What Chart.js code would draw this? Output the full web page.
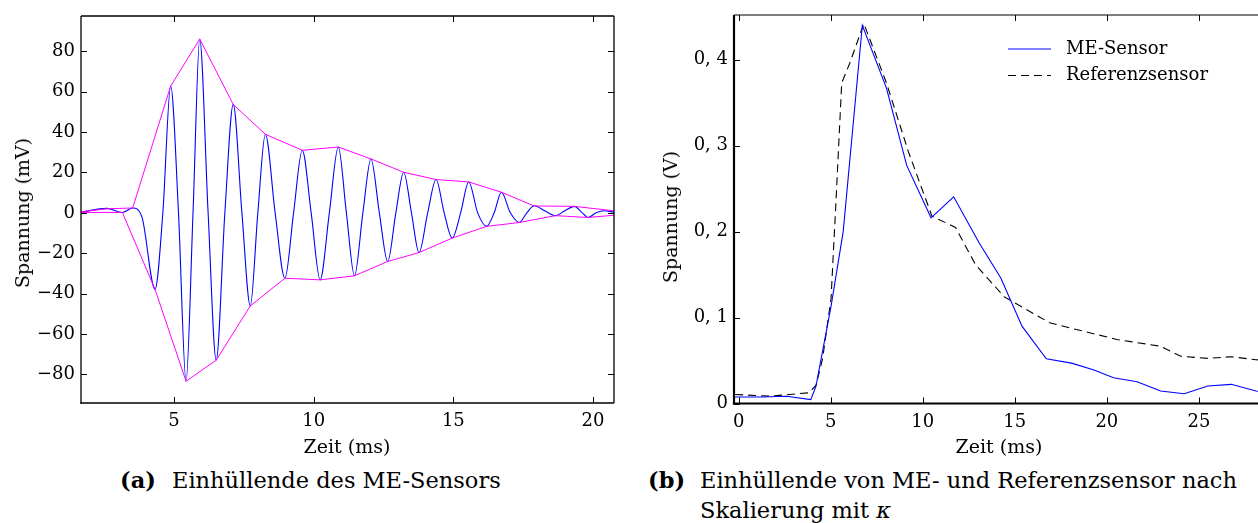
<!DOCTYPE html>
<html lang="de">
<head>
<meta charset="utf-8">
<title>Einhüllende ME-Sensor</title>
<script src="https://cdn.jsdelivr.net/npm/chart.js@4.4.1/dist/chart.umd.min.js"></script>
<style>
html, body { margin: 0; padding: 0; overflow: hidden; background: #fff; }
body { width: 1258px; height: 523px; position: relative; font-family: 'DejaVu Serif', serif; color: #000; }
canvas { position: absolute; top: 0; }
#chartA { left: 0; }
#chartB { left: 640px; }
.lbl { position: absolute; font-size: 19px; line-height: 24px; white-space: nowrap; }
.cap { position: absolute; font-size: 22.5px; line-height: 28px; white-space: nowrap; }
.xt { transform: translateX(-50%); }
.yt { transform: translate(-50%, -50%) rotate(-90deg); }
</style>
</head>
<body>
<canvas id="chartA" width="630" height="460"></canvas>
<canvas id="chartB" width="680" height="460"></canvas>

<div class="lbl xt" style="left:347px; top:434px;">Zeit (ms)</div>
<div class="lbl xt" style="left:999px; top:434px;">Zeit (ms)</div>
<div class="lbl yt" style="left:22px; top:213px;">Spannung (mV)</div>
<div class="lbl yt" style="left:670px; top:217px;">Spannung (V)</div>

<div class="cap" style="left:120px; top:466px;"><b>(a)</b></div>
<div class="cap" style="left:172px; top:466px;">Einhüllende des ME-Sensors</div>
<div class="cap" style="left:648px; top:466px;"><b>(b)</b></div>
<div class="cap" style="left:700px; top:466px;">Einhüllende von ME- und Referenzsensor nach</div>
<div class="cap" style="left:700px; top:496px;">Skalierung mit <i>κ</i></div>

<script>
// (a) ME-Sensor signal in mV and its upper / lower envelope
const tSig = [1.67, 2.6, 3.15, 3.52, 3.85, 4.32, 4.6, 4.88, 5.16, 5.43,
  5.68, 5.92, 6.22, 6.51, 6.82, 7.12, 7.43, 7.73, 8.0, 8.27,
  8.62, 8.97, 9.28, 9.59, 9.91, 10.23, 10.56, 10.88, 11.17, 11.46,
  11.76, 12.05, 12.35, 12.65, 12.94, 13.22, 13.5, 13.77, 14.08, 14.38,
  14.67, 14.96, 15.26, 15.55, 15.87, 16.19, 16.46, 16.72, 17.04, 17.36,
  17.63, 17.89, 18.27, 18.65, 18.99, 19.33, 19.58, 19.82, 20.11, 20.4,
  20.75];
const sig = [0.3, 2.2, 0.2, 2.4, -2, -37.9, 0, 62.8, 0, -83.4,
  0, 86.1, 0, -73.0, 0, 53.7, 0, -46.1, 0, 38.9,
  0, -32.4, 0, 31.0, 0, -33.2, 0, 32.6, 0, -31.2,
  0, 26.7, 0, -24.1, 0, 20.1, 0, -19.7, 0, 16.5,
  0, -12.5, 0, 15.3, 0, -6.7, 0, 10.2, 0, -4.8,
  0, 3.5, 1.0, -1.4, 1.0, 3.2, 0.5, -2.3, 0, 1.0,
  0.3];

const tUpper = [1.67, 2.6, 3.52, 4.88, 5.92, 7.12, 8.27, 9.59, 10.88, 12.05, 13.22, 14.38, 15.55, 16.72, 17.89, 19.33, 20.75];
const envUpper = [0.5, 2.0, 2.4, 62.8, 86.1, 53.7, 38.9, 31.0, 32.6, 26.7, 20.1, 16.5, 15.3, 10.2, 3.4, 3.2, 1.0];
const tLower = [1.67, 3.15, 4.32, 5.43, 6.51, 7.73, 8.97, 10.23, 11.46, 12.65, 13.77, 14.96, 16.19, 17.36, 18.65, 19.82, 20.75];
const envLower = [0.2, 0.2, -37.9, -83.4, -73.0, -46.1, -32.4, -33.2, -31.2, -24.1, -19.7, -12.5, -6.7, -4.8, -1.4, -2.3, -1.2];

const xTicksA = [5, 10, 15, 20];
const yTicksA = [-80, -60, -40, -20, 0, 20, 40, 60, 80];

// (b) envelopes in V after scaling
const tMe = [-0.19, 1.3, 2.6, 3.92, 4.2, 5.02, 5.68, 6.72, 8.03, 9.13, 10.45, 11.68, 13.06,
  14.24, 15.39, 16.71, 18.08, 19.3, 20.36, 21.64, 22.92, 24.2, 25.48, 26.75, 28.1, 29.4];
const me = [0.0075, 0.0075, 0.0085, 0.0045, 0.02, 0.113, 0.2, 0.44, 0.367, 0.277, 0.216, 0.2405, 0.187,
  0.146, 0.09, 0.052, 0.047, 0.039, 0.03, 0.0254, 0.0145, 0.0113, 0.0203, 0.0223, 0.0145, 0.012];
const tRef = [-0.19, 1.73, 3.83, 4.2, 4.56, 5.02, 5.29, 5.6, 6.02, 6.8, 8.03, 9.22, 10.5,
  11.78, 12.87, 14.43, 16.89, 17.8, 20.54, 22.92, 24.01, 25.48, 26.75, 28.1, 29.4];
const ref = [0.0105, 0.0085, 0.0125, 0.021, 0.052, 0.122, 0.236, 0.373, 0.395, 0.442, 0.373, 0.293, 0.218,
  0.2048, 0.1615, 0.124, 0.094, 0.089, 0.0745, 0.0666, 0.0549, 0.0525, 0.0544, 0.0509, 0.05];

const xTicksB = [0, 5, 10, 15, 20, 25, 30];
const yTicksB = [0, 0.1, 0.2, 0.3, 0.4];
const yLabelsB = ['0', '0, 1', '0, 2', '0, 3', '0, 4'];

const FONT = { family: "'DejaVu Serif', serif", size: 18 };

function pts(xs, ys) {
  return xs.map((x, i) => ({ x: x, y: ys[i] }));
}

// fixed axis box size so the plot area lands where we want it
function fixSize(size) {
  return function (scale) {
    if (scale.isHorizontal()) scale.height = size; else scale.width = size;
    scale.paddingTop = 0; scale.paddingBottom = 0;
    scale.paddingLeft = 0; scale.paddingRight = 0;
  };
}
function useTicks(values) {
  return function (scale) {
    scale.ticks = values.map(v => ({ value: v }));
  };
}

// box around the plot with inward tick marks on all sides
const frame = {
  id: 'frame',
  afterDatasetsDraw(chart, args, opts) {
    const { ctx, chartArea: a, scales: { x, y } } = chart;
    const len = 6;
    ctx.save();
    ctx.strokeStyle = '#000';
    ctx.lineWidth = 1;
    ctx.beginPath();
    x.ticks.forEach(t => {
      const px = Math.round(x.getPixelForValue(t.value)) + 0.5;
      ctx.moveTo(px, a.bottom); ctx.lineTo(px, a.bottom - len);
      ctx.moveTo(px, a.top); ctx.lineTo(px, a.top + len);
    });
    y.ticks.forEach(t => {
      const py = Math.round(y.getPixelForValue(t.value)) + 0.5;
      ctx.moveTo(a.left, py); ctx.lineTo(a.left + len, py);
      ctx.moveTo(a.right, py); ctx.lineTo(a.right - len, py);
    });
    ctx.stroke();
    const side = (w, x1, y1, x2, y2) => {
      ctx.lineWidth = w;
      ctx.beginPath(); ctx.moveTo(x1, y1); ctx.lineTo(x2, y2); ctx.stroke();
    };
    side(opts.top, a.left, a.top, a.right, a.top);
    side(opts.right, a.right, a.top, a.right, a.bottom);
    side(opts.bottom, a.left - opts.left / 2, a.bottom, a.right, a.bottom);
    side(opts.left, a.left, a.top, a.left, a.bottom + opts.bottom / 2);
    ctx.restore();
  }
};

// legend drawn inside the plot area
const innerLegend = {
  id: 'innerLegend',
  afterDatasetsDraw(chart, args, opts) {
    if (!opts.show) return;
    const { ctx, chartArea: a } = chart;
    ctx.save();
    ctx.font = FONT.size + 'px ' + FONT.family;
    ctx.textBaseline = 'middle';
    ctx.fillStyle = '#000';
    chart.data.datasets.forEach((ds, i) => {
      const x = a.left + opts.left;
      const y = a.top + opts.top + i * opts.row;
      ctx.strokeStyle = ds.borderColor;
      ctx.lineWidth = ds.borderWidth;
      ctx.setLineDash(ds.borderDash || []);
      ctx.beginPath(); ctx.moveTo(x, y); ctx.lineTo(x + opts.sample, y); ctx.stroke();
      ctx.setLineDash([]);
      ctx.fillText(ds.label, x + opts.sample + opts.gap, y);
    });
    ctx.restore();
  }
};

function axis(min, max, size, tickValues, pad, cb) {
  return {
    type: 'linear',
    min: min,
    max: max,
    afterFit: fixSize(size),
    afterBuildTicks: useTicks(tickValues),
    grid: { display: false, drawTicks: false },
    border: { display: false },
    ticks: { color: '#000', font: FONT, padding: pad, maxRotation: 0, autoSkip: false, callback: cb }
  };
}

new Chart(document.getElementById('chartA'), {
  type: 'line',
  data: {
    datasets: [
      { label: 'obere Einhüllende', data: pts(tUpper, envUpper), borderColor: '#ff00ff', borderWidth: 1, tension: 0 },
      { label: 'untere Einhüllende', data: pts(tLower, envLower), borderColor: '#ff00ff', borderWidth: 1, tension: 0 },
      { label: 'ME-Sensor', data: pts(tSig, sig), borderColor: '#0000ff', borderWidth: 1.1, cubicInterpolationMode: 'monotone' }
    ]
  },
  options: {
    responsive: false,
    animation: false,
    events: [],
    layout: { padding: { top: 16, right: 16, left: 0, bottom: 0 } },
    elements: { point: { radius: 0 } },
    plugins: {
      legend: { display: false },
      tooltip: { enabled: false },
      frame: { top: 1.3, right: 1.3, bottom: 1.3, left: 1.3 },
      innerLegend: { show: false }
    },
    scales: {
      x: axis(1.67, 20.75, 57, xTicksA, 8, v => String(v)),
      y: axis(-94.2, 97.5, 81, yTicksA, 6, v => (v < 0 ? '\u2212' + Math.abs(v) : String(v)))
    }
  },
  plugins: [frame, innerLegend]
});

new Chart(document.getElementById('chartB'), {
  type: 'line',
  data: {
    datasets: [
      { label: 'ME-Sensor', data: pts(tMe, me), borderColor: '#0000ff', borderWidth: 1.1, tension: 0 },
      { label: 'Referenzsensor', data: pts(tRef, ref), borderColor: '#000000', borderWidth: 1.1, borderDash: [8, 5], tension: 0 }
    ]
  },
  options: {
    responsive: false,
    animation: false,
    events: [],
    layout: { padding: { top: 15, right: 29, left: 0, bottom: 0 } },
    elements: { point: { radius: 0 } },
    plugins: {
      legend: { display: false },
      tooltip: { enabled: false },
      frame: { top: 1.2, right: 1.2, bottom: 2.2, left: 2.2 },
      innerLegend: { show: true, left: 274, top: 34, row: 26.5, sample: 43, gap: 15 }
    },
    scales: {
      x: axis(-0.25, 30, 56.5, xTicksB, 8, v => String(v)),
      y: axis(0, 0.452, 94, yTicksB, 6, (v, i) => yLabelsB[i])
    }
  },
  plugins: [frame, innerLegend]
});
</script>
</body>
</html>
